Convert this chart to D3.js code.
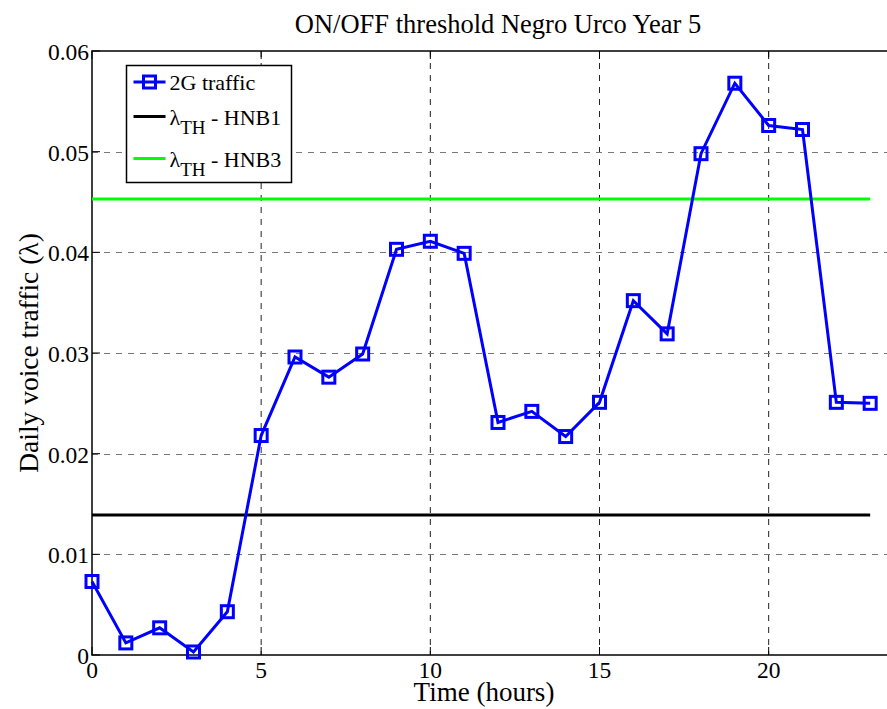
<!DOCTYPE html>
<html>
<head>
<meta charset="utf-8">
<script src="https://cdn.jsdelivr.net/npm/d3@7"></script>
<style>
body { margin: 0; background: #fff; }
svg text { font-family: "Liberation Serif", "Times New Roman", serif; }
</style>
</head>
<body>
<div id="chart"></div>
<script>
// Data
const hours = [0, 1, 2, 3, 4, 5, 6, 7, 8, 9, 10, 11, 12, 13, 14, 15, 16, 17, 18, 19, 20, 21, 22, 23];
const traffic2G = [0.0073, 0.0012, 0.0027, 0.0003, 0.0043, 0.0218, 0.0296, 0.0276, 0.0299, 0.0403, 0.0411, 0.0399,
    0.0231, 0.0242, 0.0217, 0.0251, 0.0352, 0.0319, 0.0498, 0.0568, 0.0526, 0.0522, 0.0251, 0.0250];
const thresholdHNB1 = 0.0139;
const thresholdHNB3 = 0.0453;
const xTicks = [0, 5, 10, 15, 20];
const yTicks = [0, 0.01, 0.02, 0.03, 0.04, 0.05, 0.06];

const W = 887, H = 709;
const margin = { top: 51, left: 92 };
const plotW = 812, plotH = 604;

const svg = d3.select("#chart").append("svg")
    .attr("width", W)
    .attr("height", H)
    .style("display", "block");

const g = svg.append("g").attr("transform", `translate(${margin.left},${margin.top})`);

const x = d3.scaleLinear().domain([0, 24]).range([0, plotW]);
const y = d3.scaleLinear().domain([0, 0.06]).range([plotH, 0]);

// grid
g.selectAll(".vgrid").data(xTicks.filter(d => d > 0)).join("line")
    .attr("x1", d => x(d)).attr("x2", d => x(d))
    .attr("y1", 0).attr("y2", plotH)
    .attr("stroke", "#222").attr("stroke-width", 1)
    .attr("stroke-dasharray", "6,6");

g.selectAll(".hgrid").data(yTicks.filter(d => d > 0 && d < 0.06)).join("line")
    .attr("x1", 0).attr("x2", plotW)
    .attr("y1", d => Math.round(y(d)) + 0.5).attr("y2", d => Math.round(y(d)) + 0.5)
    .attr("stroke", "#777").attr("stroke-width", 1)
    .attr("stroke-dasharray", "6,6");

// frame
g.append("rect")
    .attr("x", 0).attr("y", 0)
    .attr("width", plotW).attr("height", plotH)
    .attr("fill", "none").attr("stroke", "#000").attr("stroke-width", 1.5);

// ticks (inward)
xTicks.forEach(t => {
    g.append("line").attr("x1", x(t)).attr("x2", x(t)).attr("y1", plotH).attr("y2", plotH - 8).attr("stroke", "#000");
    g.append("line").attr("x1", x(t)).attr("x2", x(t)).attr("y1", 0).attr("y2", 8).attr("stroke", "#000");
});
yTicks.forEach(t => {
    g.append("line").attr("x1", 0).attr("x2", 8).attr("y1", y(t)).attr("y2", y(t)).attr("stroke", "#000");
});

// tick labels
g.selectAll(".xl").data(xTicks).join("text")
    .attr("x", d => x(d)).attr("y", plotH + 23)
    .attr("text-anchor", "middle")
    .attr("font-size", 23.5)
    .text(d => d);

g.selectAll(".yl").data(yTicks).join("text")
    .attr("x", -3).attr("y", d => y(d) + 9)
    .attr("text-anchor", "end")
    .attr("font-size", 23.5)
    .text(d => d === 0 ? "0" : d.toFixed(2));

// threshold lines
g.append("line")
    .attr("x1", x(0)).attr("x2", x(23))
    .attr("y1", y(thresholdHNB1)).attr("y2", y(thresholdHNB1))
    .attr("stroke", "#000").attr("stroke-width", 3);
g.append("line")
    .attr("x1", x(0)).attr("x2", x(23))
    .attr("y1", y(thresholdHNB3)).attr("y2", y(thresholdHNB3))
    .attr("stroke", "#00ff00").attr("stroke-width", 3);

// 2G traffic line
const pts = hours.map((h, i) => [h, traffic2G[i]]);
g.append("path")
    .datum(pts)
    .attr("fill", "none")
    .attr("stroke", "#0000ff")
    .attr("stroke-width", 3)
    .attr("d", d3.line().x(d => x(d[0])).y(d => y(d[1])));

const ms = 12;
g.selectAll(".mk").data(pts).join("rect")
    .attr("x", d => x(d[0]) - ms / 2)
    .attr("y", d => y(d[1]) - ms / 2)
    .attr("width", ms).attr("height", ms)
    .attr("fill", "none")
    .attr("stroke", "#0000ff")
    .attr("stroke-width", 3);

// title + axis labels
svg.append("text")
    .attr("x", margin.left + plotW / 2).attr("y", 33)
    .attr("text-anchor", "middle")
    .attr("font-size", 26.5)
    .text("ON/OFF threshold Negro Urco Year 5");

svg.append("text")
    .attr("x", 484).attr("y", 701)
    .attr("text-anchor", "middle")
    .attr("font-size", 27)
    .text("Time (hours)");

svg.append("text")
    .attr("transform", `translate(38,353) rotate(-90)`)
    .attr("text-anchor", "middle")
    .attr("font-size", 27.5)
    .text("Daily voice traffic (λ)");

// legend
const leg = svg.append("g").attr("transform", "translate(126.5,65.5)");
leg.append("rect")
    .attr("width", 165).attr("height", 117)
    .attr("fill", "#fff").attr("stroke", "#000").attr("stroke-width", 1.5);

const legendItems = [
    { color: "#0000ff", marker: true, main: "2G traffic", sub: null, tail: null },
    { color: "#000", marker: false, main: "λ", sub: "TH", tail: " - HNB1" },
    { color: "#00ff00", marker: false, main: "λ", sub: "TH", tail: " - HNB3" }
];
const rowY = [16.5, 51, 93];
legendItems.forEach((it, i) => {
    const ry = rowY[i];
    leg.append("line")
        .attr("x1", 7).attr("x2", 39)
        .attr("y1", ry).attr("y2", ry)
        .attr("stroke", it.color).attr("stroke-width", 3);
    if (it.marker) {
        leg.append("rect")
            .attr("x", 23 - ms / 2).attr("y", ry - ms / 2)
            .attr("width", ms).attr("height", ms)
            .attr("fill", "none").attr("stroke", it.color).attr("stroke-width", 3);
    }
    const t = leg.append("text")
        .attr("x", 43).attr("y", ry + 8)
        .attr("font-size", 22);
    t.append("tspan").text(it.main);
    if (it.sub) {
        t.append("tspan").attr("dy", 9).attr("font-size", 19).text(it.sub);
        t.append("tspan").attr("dy", -9).text(it.tail);
    }
});
</script>
</body>
</html>
